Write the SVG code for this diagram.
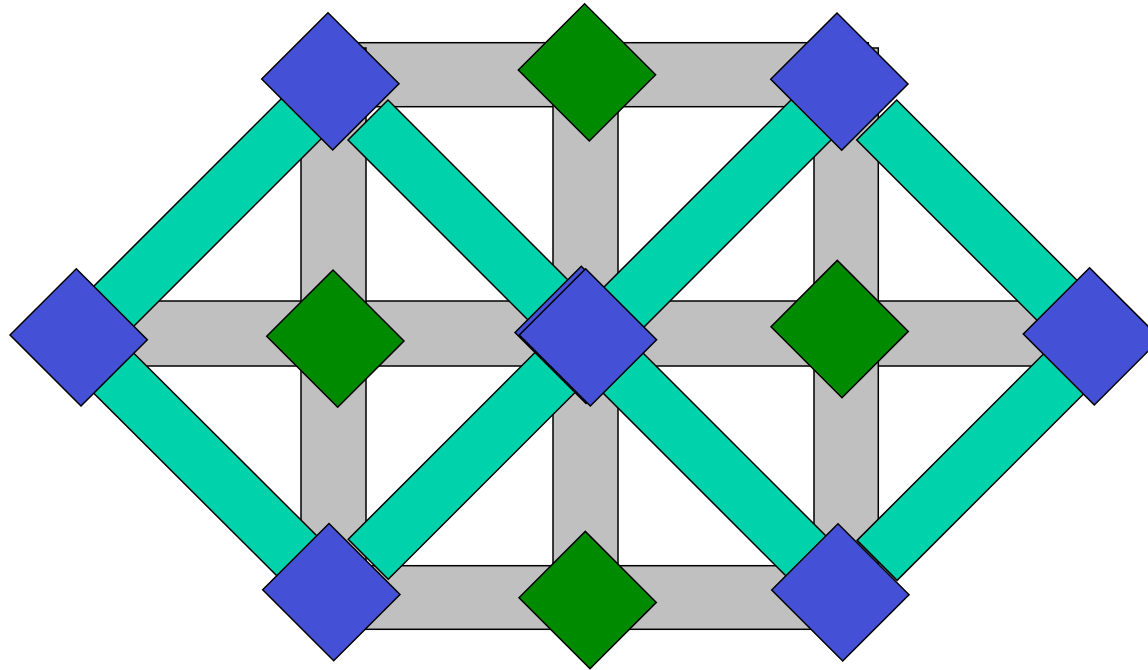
<svg xmlns="http://www.w3.org/2000/svg" xmlns:xlink="http://www.w3.org/1999/xlink" width="1148" height="670" viewBox="0 0 1148 670">
<style>
.gray{fill:#C0C0C0;stroke:#000;stroke-width:1.5}
.teal{fill:#00D2AC;stroke:#000;stroke-width:1.5}
.blue{fill:#4450D6;stroke:#000;stroke-width:1.5}
.green{fill:#008A00;stroke:#000;stroke-width:1.5}
</style>
<defs>
<path id="dia" d="M0,0 L66.3,-66.3 L137.3,4.7 L71,71 Z"/>
</defs>
<rect width="1148" height="670" fill="#fff"/>
<g id="connectors">
<g id="gray-h">
<rect class="gray" x="311" y="42.7" width="557.3" height="64"/>
<rect class="gray" x="80" y="301" width="1010" height="65"/>
<rect class="gray" x="311" y="565.7" width="557" height="63.6"/>
</g>
<g id="gray-v">
<rect class="gray" x="301" y="48" width="65" height="576"/>
<rect class="gray" x="553" y="48" width="65" height="576"/>
<rect class="gray" x="814" y="48" width="64.3" height="576"/>
</g>
<g id="teal">
<polygon class="teal" points="80,300 283,97 323,137 120,340"/>
<polygon class="teal" points="120,339.5 318,537 278,577 80,379.5"/>
<polygon class="teal" points="388,100 607,319 567,359 348,140"/>
<polygon class="teal" points="348.25,539.25 568.75,318.75 608.75,358.75 388.25,579.25"/>
<polygon class="teal" points="570.5,320.5 794,97 834,137 610.5,360.5"/>
<polygon class="teal" points="608,318 835,545 795,585 568,358"/>
<polygon class="teal" points="896.7,100 1088,291.3 1048,331.3 856.7,140"/>
<polygon class="teal" points="857.1,540.4 1048,349.5 1088,389.5 897.1,580.4"/>
</g>
</g>
<g id="node-blue-tl"><use xlink:href="#dia" href="#dia" class="blue" x="261.7" y="79"/></g>
<g id="node-green-top"><use xlink:href="#dia" href="#dia" class="green" x="518.3" y="70"/></g>
<g id="node-blue-tr"><use xlink:href="#dia" href="#dia" class="blue" x="770.7" y="79.3"/></g>
<g id="node-blue-left"><use xlink:href="#dia" href="#dia" class="blue" x="10" y="335"/></g>
<g id="node-green-left"><use xlink:href="#dia" href="#dia" class="green" x="266.7" y="336.3"/></g>
<g id="node-blue-center-back"><use xlink:href="#dia" href="#dia" class="blue" x="515" y="332.5"/></g>
<g id="node-blue-center"><use xlink:href="#dia" href="#dia" class="blue" x="519.3" y="335"/></g>
<g id="node-green-right"><use xlink:href="#dia" href="#dia" class="green" x="771" y="326.7"/></g>
<g id="node-blue-right"><use xlink:href="#dia" href="#dia" class="blue" x="1023.3" y="334"/></g>
<g id="node-blue-bl"><use xlink:href="#dia" href="#dia" class="blue" x="262.7" y="589.8"/></g>
<g id="node-green-bottom"><use xlink:href="#dia" href="#dia" class="green" x="519" y="597.7"/></g>
<g id="node-blue-br"><use xlink:href="#dia" href="#dia" class="blue" x="771.7" y="590"/></g>
</svg>
